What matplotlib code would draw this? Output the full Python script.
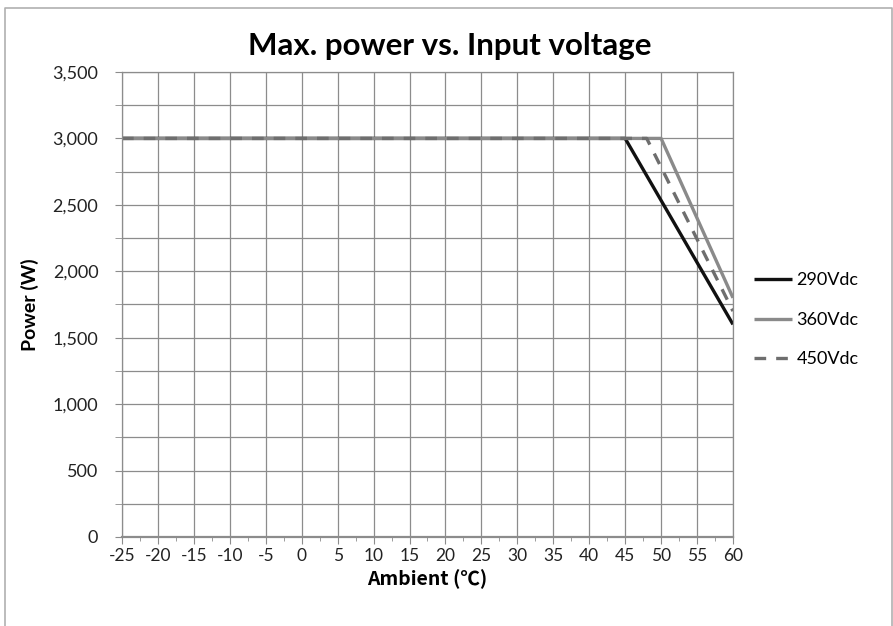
import numpy as np
import matplotlib.pyplot as plt
from matplotlib.ticker import MultipleLocator, FuncFormatter
from matplotlib.lines import Line2D

plt.rcParams['font.family'] = ['Lato', 'Noto Sans CJK SC', 'DejaVu Sans']
plt.rcParams['axes.unicode_minus'] = False

# derating curves (ambient degC -> max power W)
x_290 = [-25, 45, 60]
p_290 = [3000, 3000, 1600]
x_360 = [-25, 50, 60]
p_360 = [3000, 3000, 1800]
x_450 = [-25, 48, 60]
p_450 = [3000, 3000, 1700]
labels = ['290Vdc', '360Vdc', '450Vdc']

grid_c = '#8c8c8c'

fig = plt.figure(figsize=(8.93, 6.26), dpi=100)
ax = fig.add_axes([0.1366, 0.1422, 0.6842, 0.7428])

ax.plot(x_290, p_290, color='#111111', lw=2.4, label=labels[0], solid_capstyle='butt')
ax.plot(x_360, p_360, color='#8a8a8a', lw=2.4, label=labels[1], solid_capstyle='butt')
ax.plot(x_450, p_450, color='#6e6e6e', lw=2.4, label=labels[2], dashes=(3.5, 3.0))

ax.set_xlim(-25, 60)
ax.set_ylim(0, 3500)
ax.xaxis.set_major_locator(MultipleLocator(5))
ax.xaxis.set_minor_locator(MultipleLocator(2.5))
ax.yaxis.set_major_locator(MultipleLocator(500))
ax.yaxis.set_minor_locator(MultipleLocator(250))
ax.yaxis.set_major_formatter(FuncFormatter(lambda v, p: f'{int(v):,}'))

ax.grid(True, which='major', axis='x', color=grid_c, lw=0.9)
ax.grid(True, which='both', axis='y', color=grid_c, lw=0.9)
ax.set_axisbelow(True)
for s in ax.spines.values():
    s.set_color(grid_c)
    s.set_linewidth(0.9)
ax.spines['bottom'].set_linewidth(1.6)

ax.tick_params(axis='x', which='major', length=5, color=grid_c, labelsize=12.5, pad=3)
ax.tick_params(axis='x', which='minor', length=3, color=grid_c)
ax.tick_params(axis='y', which='both', length=5, color=grid_c, labelsize=13, pad=12)
for t in ax.get_xticklabels() + ax.get_yticklabels():
    t.set_color('#222222')

fig.text(449.5 / 893, 1 - 46 / 626, 'Max. power vs. Input voltage', fontsize=22.5,
         fontweight='bold', ha='center', va='center')
ax.set_xlabel('Ambient (℃)', fontsize=14, fontweight='bold', labelpad=4,
              family=['Noto Sans CJK SC', 'DejaVu Sans'])
ax.set_ylabel('Power (W)', fontsize=14, fontweight='bold', labelpad=10)

ax.legend(loc='center left', bbox_to_anchor=(1.02, 0.467), frameon=False, fontsize=13,
          handlelength=2.1, handletextpad=0.25, labelspacing=1.3, borderpad=0)

# outer chart border
fig.add_artist(Line2D([4.5 / 893, 4.5 / 893, 891.5 / 893, 891.5 / 893],
                      [0, 1 - 7.5 / 626, 1 - 7.5 / 626, 0],
                      color='#b0b0b0', lw=1.2, transform=fig.transFigure))

fig.savefig('out.png', dpi=100)
